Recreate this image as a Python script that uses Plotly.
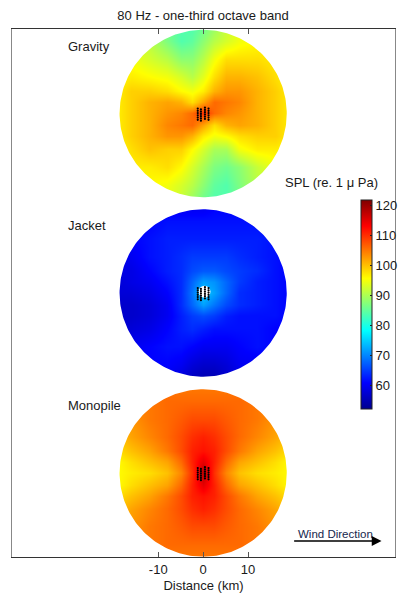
import numpy as np
import plotly.graph_objects as go

W, H = 405, 597
L, R, T, B = 12, 395.5, 29, 557
KM_X = [-19, -16, -12, -8, -5, -2.5, 0, 2.5, 5, 8, 12, 16, 19]
KM_Y = [19, 16, 12, 8, 5, 2.5, 0, -2.5, -5, -8, -12, -16, -19]
FARM_RADIUS = 18.6
CENTERS = {"Gravity": 98.56, "Jacket": 58.67, "Monopile": 18.67}
LABEL_PX = {"Gravity": 47, "Jacket": 226, "Monopile": 405}

GRAVITY = [
    [93, 92, 90, 86, 84, 84, 86, 89, 92, 94, 95, 96, 96],
    [94, 93, 91, 87, 84, 85, 88, 91, 93, 95, 96, 95, 94],
    [95, 95, 93, 91, 88, 88, 91, 95, 98, 98, 98, 97, 95],
    [96, 97, 96, 95, 93, 91, 94, 98, 101, 101, 100, 98, 96],
    [97, 99, 99, 98, 96, 95, 97, 101, 103, 103, 101, 99, 97],
    [97, 99, 101, 102, 101, 98, 102, 106, 105, 104, 101, 99, 97],
    [97, 99, 101, 103, 104, 106, 110, 106, 104, 103, 101, 99, 97],
    [97, 99, 101, 104, 105, 106, 102, 98, 101, 102, 101, 99, 97],
    [97, 99, 101, 103, 103, 101, 97, 95, 96, 98, 99, 99, 97],
    [96, 98, 100, 99, 99, 96, 93, 90, 90, 95, 97, 97, 96],
    [95, 97, 97, 98, 96, 93, 90, 87, 86, 88, 92, 95, 95],
    [94, 95, 96, 95, 93, 91, 88, 85, 84, 87, 91, 93, 94],
    [96, 96, 95, 94, 92, 89, 86, 84, 84, 86, 90, 92, 93],
]
JACKET = [
    [58, 59, 60, 60, 60, 60, 60, 61, 61, 61, 60, 60, 60],
    [59, 60, 61, 62, 62, 62, 62, 62, 62, 62, 62, 61, 60],
    [59, 61, 62, 63, 63, 63, 63, 63, 63, 63, 63, 62, 61],
    [59, 60, 62, 63, 64, 65, 65, 65, 65, 64, 63, 62, 61],
    [59, 59, 61, 63, 64, 66, 67, 67, 66, 65, 64, 62, 61],
    [58, 59, 60, 62, 64, 68, 72, 71, 68, 65, 63, 62, 61],
    [58, 58, 59, 61, 64, 69, 75, 72, 68, 64, 63, 62, 61],
    [57, 57, 58, 60, 64, 68, 72, 69, 66, 64, 63, 62, 61],
    [57, 57, 58, 60, 63, 65, 66, 65, 63, 62, 62, 62, 61],
    [58, 58, 59, 61, 63, 64, 63, 62, 62, 62, 62, 61, 61],
    [59, 60, 61, 62, 62, 61, 60, 60, 60, 61, 62, 61, 60],
    [60, 60, 61, 61, 60, 58, 57, 57, 58, 60, 60, 60, 60],
    [60, 60, 60, 60, 58, 56, 55, 55, 57, 59, 60, 60, 60],
]
MONOPILE = [
    [103, 104, 105, 105, 105, 105, 105, 105, 105, 105, 105, 104, 103],
    [102, 104, 105, 106, 106, 106, 106, 106, 106, 106, 105, 104, 102],
    [101, 103, 105, 106, 107, 108, 108, 108, 107, 106, 105, 103, 101],
    [100, 102, 104, 106, 108, 110, 111, 110, 108, 106, 104, 102, 100],
    [98, 100, 102, 105, 108, 111, 112, 111, 108, 105, 102, 100, 98],
    [96, 98, 100, 102, 106, 111, 115, 111, 106, 102, 100, 98, 96],
    [96, 97, 98, 100, 104, 110, 118, 110, 104, 100, 98, 97, 96],
    [96, 98, 100, 102, 106, 111, 115, 111, 106, 102, 100, 98, 96],
    [98, 100, 102, 105, 108, 111, 112, 111, 108, 105, 102, 100, 98],
    [100, 102, 104, 106, 108, 110, 111, 110, 108, 106, 104, 102, 100],
    [101, 103, 105, 106, 107, 108, 108, 108, 107, 106, 105, 103, 101],
    [102, 104, 105, 106, 106, 106, 106, 106, 106, 106, 105, 104, 102],
    [103, 104, 105, 105, 105, 105, 105, 105, 105, 105, 105, 104, 103],
]
FIELDS = {"Gravity": GRAVITY, "Jacket": JACKET, "Monopile": MONOPILE}

TURBINE_X = [-1.2] * 6 + [-0.5] * 6 + [0.4] * 6 + [1.2] * 6
TURBINE_Y = [1.1, 0.6, 0.1, -0.4, -0.9, -1.4,
             0.9, 0.4, -0.1, -0.6, -1.1, -1.6,
             1.3, 0.8, 0.3, -0.2, -0.7, -1.2,
             1.1, 0.6, 0.1, -0.4, -0.9, -1.4]

X_TICKS = [-10, 0, 10]
X_TICK_LABELS = ["-10", "0", "10"]
CBAR_TICKS = [60, 70, 80, 90, 100, 110, 120]
JET = [[0, "#00008f"], [0.125, "#0000ff"], [0.375, "#00ffff"],
       [0.625, "#ffff00"], [0.875, "#ff0000"], [1, "#800000"]]
FONT = "Liberation Sans"

fig = go.Figure()
x_range = [(L - 203.4) / 4.5, (R - 203.4) / 4.5]
y_range = [0, (B - T) / 4.5]

for name, cy in CENTERS.items():
    fig.add_trace(go.Heatmap(x=KM_X, y=[cy + v for v in KM_Y], z=FIELDS[name],
                             coloraxis="coloraxis", zsmooth="best", hoverinfo="skip"))

# one white sheet over the frame, with a round opening for each map
theta = np.linspace(np.pi, 3 * np.pi, 241)
mx = [x_range[0], x_range[1], x_range[1], x_range[0]]
my = [y_range[1], y_range[1], y_range[0], y_range[0]]
for cy in sorted(CENTERS.values()):
    mx += [x_range[0]] + list(FARM_RADIUS * np.cos(theta)) + [x_range[0]]
    my += [cy] + list(cy + FARM_RADIUS * np.sin(theta)) + [cy]
mx.append(x_range[0])
my.append(y_range[1])
fig.add_trace(go.Scatter(x=mx, y=my, mode="lines", fill="toself", fillcolor="white",
                         line=dict(width=0, color="white"), hoverinfo="skip", showlegend=False))

for name, cy in CENTERS.items():
    if name == "Jacket":
        fig.add_trace(go.Scatter(x=[0.3], y=[cy + 0.3], mode="markers",
                                 marker=dict(size=12, color="white"), hoverinfo="skip", showlegend=False))
    fig.add_trace(go.Scatter(x=TURBINE_X, y=[cy + v for v in TURBINE_Y], mode="markers",
                             marker=dict(size=2.2, color="black"), hoverinfo="skip", showlegend=False))


def note(text, px, py, size=13, color="#1a1a1a", xanchor="left"):
    fig.add_annotation(text=text, x=(px - L) / (R - L), y=(B - py) / (B - T), xref="paper", yref="paper",
                       showarrow=False, xanchor=xanchor, yanchor="middle",
                       font=dict(size=size, color=color, family=FONT))


fig.update_layout(
    width=W, height=H, autosize=False,
    margin=dict(l=L, r=W - R, t=T, b=H - B, autoexpand=False),
    paper_bgcolor="white", plot_bgcolor="white", showlegend=False,
    font=dict(family=FONT, size=13, color="#1a1a1a"),
    title=dict(text="80 Hz - one-third octave band", x=203 / W, xanchor="center",
               y=1 - 15 / H, yanchor="middle", font=dict(size=13)),
    coloraxis=dict(cmin=52.3, cmax=121.9, colorscale=JET,
                   colorbar=dict(x=(361 - L) / (R - L), xanchor="left",
                                 y=(B - 304) / (B - T), yanchor="middle", lenmode="pixels", len=209,
                                 thickness=11, xpad=0, ypad=0, tickvals=CBAR_TICKS,
                                 ticks="inside", ticklen=2, tickcolor="#222",
                                 outlinecolor="#222", outlinewidth=1,
                                 tickfont=dict(size=13, color="#1a1a1a", family=FONT))),
    xaxis=dict(range=x_range, tickvals=X_TICKS, ticktext=X_TICK_LABELS, ticks="inside", ticklen=5,
               tickcolor="#555", showgrid=False, zeroline=False, showline=True, linecolor="#333",
               mirror="allticks", automargin=False,
               title=dict(text="Distance (km)", standoff=5, font=dict(size=13)),
               tickfont=dict(size=13)),
    yaxis=dict(range=y_range, showticklabels=False, ticks="", showgrid=False, zeroline=False,
               showline=True, linecolor="#888", mirror=True, automargin=False),
)

for name in CENTERS:
    note(name, 66, LABEL_PX[name])
note("SPL (re. 1 \u03bc Pa)", 283, 182)
note("Wind Direction", 296, 534, size=11.5, color="#16264d")
fig.add_annotation(x=(382 - 203.4) / 4.5, y=(B - 541) / 4.5, ax=(293 - 203.4) / 4.5, ay=(B - 541) / 4.5,
                   xref="x", yref="y", axref="x", ayref="y", text="", showarrow=True,
                   arrowhead=2, arrowsize=1.4, arrowwidth=1.4, arrowcolor="black")

fig.write_html("out.html", config={"displayModeBar": False},
               post_script="document.body.style.margin='0';")
